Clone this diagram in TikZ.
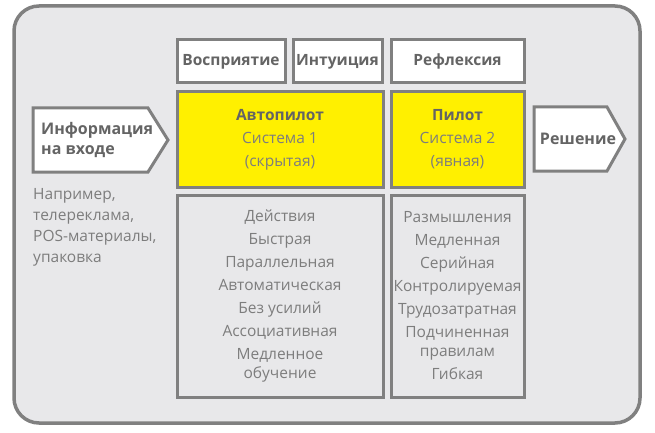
\documentclass[tikz,border=0pt]{standalone}
\usepackage{fontspec}
\setmainfont{Open Sans}
\definecolor{frame}{RGB}{128,128,128}
\definecolor{panel}{RGB}{232,232,234}
\definecolor{sysyellow}{RGB}{255,240,0}
\definecolor{darktext}{RGB}{100,100,100}
\definecolor{lighttext}{RGB}{125,125,125}
\begin{document}
\begin{tikzpicture}[x=1pt,y=-1pt,
    box/.style={draw=frame,line width=3pt,inner sep=0pt,outer sep=0pt,align=center},
    head/.style={box,fill=white,minimum height=43pt,text=darktext,
      font=\bfseries\fontsize{15.5}{18}\selectfont},
    sys/.style={box,fill=sysyellow,minimum height=95pt,text=lighttext,
      font=\fontsize{15.5}{23}\selectfont},
    props/.style={box,fill=panel,minimum height=202pt,text=lighttext,
      font=\fontsize{15.5}{19}\selectfont},
    flow/.style={draw=frame,fill=white,line width=3pt,line join=miter},
    flowtext/.style={text=darktext,inner sep=0pt,font=\bfseries\fontsize{16}{20}\selectfont}]
      \useasboundingbox (0,0) rectangle (655,433);
      \draw[frame,fill=panel,line width=3.5pt,rounded corners=25pt] (14,6) rectangle (640,423);
      % top row
      \node[head,minimum width=108pt] (perception) at (231,61.5) {Восприятие};
      \node[head,minimum width=89pt] (intuition) at (337.5,61.5) {Интуиция};
      \node[head,minimum width=133pt] (reflection) at (457.5,61.5) {Рефлексия};
      % systems
      \node[sys,minimum width=206pt] (autopilot) at (280,139.5)
        {{\bfseries\color{darktext}Автопилот}\\Система 1\\(скрытая)};
      \node[sys,minimum width=133pt] (pilot) at (457.5,139.5)
        {{\bfseries\color{darktext}Пилот}\\Система 2\\(явная)};
      % properties
      \node[props,minimum width=206pt] (auto props) at (280,296)
        {Действия\\[4pt]Быстрая\\[4pt]Параллельная\\[4pt]Автоматическая\\[4pt]Без усилий\\[4pt]Ассоциативная\\[4pt]Медленное\\обучение};
      \node[props,minimum width=133pt] (pilot props) at (457.5,296)
        {Размышления\\[4pt]Медленная\\[4pt]Серийная\\[4pt]Контролируемая\\[4pt]Трудозатратная\\[4pt]Подчиненная\\правилам\\[4pt]Гибкая};
      % input and output
      \draw[flow] (33,108) -- (148,108) -- (168,140) -- (148,172) -- (33,172) -- cycle;
      \node[flowtext,anchor=west,align=left] (input) at (41,140) {Информация\\на входе};
      \draw[flow] (534,107) -- (607,107) -- (625,139) -- (607,171) -- (534,171) -- cycle;
      \node[flowtext] (decision) at (578,139) {Решение};
      \node[anchor=north west,align=left,inner sep=0pt,text=lighttext,
        font=\fontsize{15.5}{21}\selectfont] (examples) at (33,188)
        {Например,\\телереклама,\\POS-материалы,\\упаковка};
    \end{tikzpicture}
\end{document}
